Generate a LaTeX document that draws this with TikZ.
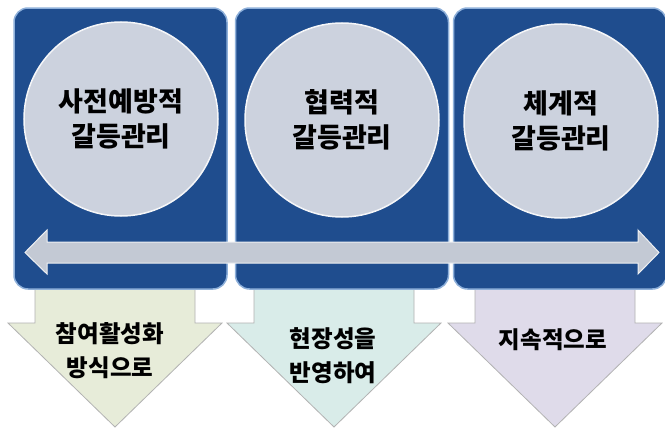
\documentclass[tikz,border=0pt]{standalone}
\usepackage{fontspec}
\newfontfamily\kr{Noto Sans CJK KR Black}
\usetikzlibrary{positioning}
\definecolor{panelblue}{HTML}{1F4D8E}
\definecolor{panelrim}{HTML}{8EB0DA}
\definecolor{discgray}{HTML}{CCD2DE}
\definecolor{bargray}{HTML}{C3C9D4}
\definecolor{dropA}{HTML}{E7ECD9}
\definecolor{dropB}{HTML}{D9ECE9}
\definecolor{dropC}{HTML}{DFDBEA}
\tikzset{
  panel/.style={draw=panelrim, line width=1.5pt, fill=panelblue, rounded corners=14pt,
    minimum width=213pt, minimum height=281pt},
  disc/.style={circle, fill=discgray, draw=white!80!discgray, line width=1.5pt,
    minimum size=194pt, align=center, font=\kr\fontsize{27}{35}\selectfont},
  drop/.style={draw=black!30, line width=0.8pt},
  droptext/.style={align=center, font=\kr\fontsize{23.5}{34}\selectfont}
}

\begin{document}
\begin{tikzpicture}[x=1pt,y=-1pt]
    \useasboundingbox (0,0) rectangle (665,431);
    \fill[white] (0,0) rectangle (665,431);

    % the three arrows pointing down
    \foreach \cx/\col in {115/dropA, 334/dropB, 555/dropC}
    {
      \draw[drop, fill=\col] (\cx-80,286) -- (\cx+80,286) -- (\cx+80,323) -- (\cx+107,323)
        -- (\cx,427) -- (\cx-107,323) -- (\cx-80,323) -- cycle;
    }

    % panels and discs
    \node[panel] (prevent) at (120.5,148.5) {};
    \node[panel] (coop) at (342,148.5) {};
    \node[panel] (system) at (560,148.5) {};

    \node[disc] (prevent-c) at (121,119) {사전예방적\\갈등관리};
    \node[disc] (coop-c) at (342,120) {협력적\\갈등관리};
    \node[disc] (system-c) at (561,121) {체계적\\갈등관리};

    % the long arrow across
    \draw[fill=bargray, draw=white!70!bargray, line width=1pt]
      (25,252.5) -- (47,230) -- (47,242) -- (638,242) -- (638,230) -- (659,252.5)
      -- (638,274) -- (638,263) -- (47,263) -- (47,274) -- cycle;

    % what each arrow says
    \node[droptext] (prevent-how) at (110,351) {참여활성화\\방식으로};
    \node[droptext] (coop-how) at (333,356) {현장성을\\반영하여};
    \node[droptext] (system-how) at (553,340) {지속적으로};

\end{tikzpicture}
\end{document}
